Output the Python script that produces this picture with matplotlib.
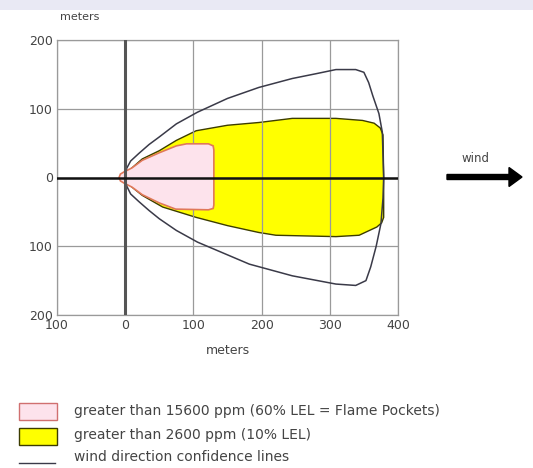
import matplotlib
matplotlib.use("Agg")
import matplotlib.pyplot as plt
from matplotlib.patches import Polygon, Rectangle, FancyArrow
from matplotlib.lines import Line2D

# threat zone outlines (meters downwind / crosswind)
outer_x = [0, 2, 8, 20, 35, 50, 75, 106, 150, 196, 245, 280, 309, 338, 350, 357, 363, 372, 377, 379,
           378, 375, 368, 360, 353, 338, 309, 245, 182, 106, 75, 50, 35, 20, 8, 2, 0]
outer_y = [0, 13, 24, 35, 48, 59, 78, 95, 115, 131, 144, 151, 157, 157, 153, 138, 119, 93, 66, 0,
           -30, -67, -100, -130, -150, -157, -155, -143, -126, -94, -77, -60, -48, -35, -24, -12, 0]

yellow_x = [0, 10, 25, 50, 75, 104, 150, 196, 245, 309, 348, 365, 374, 378, 379,
            379, 376, 369, 343, 309, 221, 196, 150, 104, 55, 25, 10, 0]
yellow_y = [3, 14, 27, 39, 54, 68, 76, 80, 86, 86, 83, 79, 72, 62, 0,
            -58, -66, -72, -84, -86, -84, -80, -70, -58, -43, -26, -14, -3]

pink_x = [-9, -7, -2, 10, 25, 50, 75, 90, 122, 129, 130, 130, 129, 122, 74, 50, 25, 10, -2, -7]
pink_y = [0, 5, 8, 14, 25, 36, 46, 49, 49, 46, 40, -40, -45, -47, -46, -37, -25, -14, -8, -5]

xticks = [-100, 0, 100, 200, 300, 400]
yticks = [-200, -100, 0, 100, 200]

legend_labels = ["greater than 15600 ppm (60% LEL = Flame Pockets)",
                 "greater than 2600 ppm (10% LEL)",
                 "wind direction confidence lines"]

W, H = 533, 468
fig = plt.figure(figsize=(W / 100, H / 100), dpi=100)

# textured strip at the top of the image
fig.add_artist(Rectangle((0, 1 - 10 / H), 1, 10 / H, transform=fig.transFigure,
                         facecolor="#e9e9f4", edgecolor="none"))

ax = fig.add_axes([57 / W, 1 - 315 / H, 341 / W, 275 / H])
ax.set_xlim(-100, 400)
ax.set_ylim(-200, 200)

ax.add_patch(Polygon(list(zip(yellow_x, yellow_y)), closed=True, facecolor="#ffff00",
                     edgecolor="#3c3c00", lw=1.0, zorder=2))
ax.add_patch(Polygon(list(zip(pink_x, pink_y)), closed=True, facecolor="#fde3ec",
                     edgecolor="#e0785a", lw=1.2, zorder=3))
ax.plot(outer_x, outer_y, color="#3a3a48", lw=1.1, zorder=4)

ax.set_xticks(xticks)
ax.set_yticks(yticks)
ax.set_xticklabels([str(abs(v)) for v in xticks])
ax.set_yticklabels([str(abs(v)) for v in yticks])
ax.tick_params(length=0, labelsize=9, colors="#444444", pad=3)
ax.grid(True, color="#9a9a9a", lw=0.9, zorder=5)
ax.set_axisbelow(False)
for s in ax.spines.values():
    s.set_color("#9a9a9a")
    s.set_linewidth(0.9)

ax.axvline(0, color="#555555", lw=2.2, zorder=6)
ax.axhline(0, color="#111111", lw=1.8, zorder=6)

fig.text(60 / W, 1 - 17 / H, "meters", fontsize=8, color="#444444", ha="left", va="center")
fig.text(228 / W, 1 - 351 / H, "meters", fontsize=9, color="#444444", ha="center", va="center")

# wind arrow
fig.text(476 / W, 1 - 158 / H, "wind", fontsize=8.5, color="#444444", ha="center", va="center")
fig.add_artist(FancyArrow(447 / W, 1 - 177 / H, 62 / W, 0, width=5 / H,
                          head_width=19 / H, head_length=13 / W, length_includes_head=False,
                          transform=fig.transFigure, color="black"))

# legend drawn below
fig.add_artist(Rectangle((19 / W, 1 - 420 / H), 38 / W, 17 / H, transform=fig.transFigure,
                         facecolor="#fde3ec", edgecolor="#d07070", lw=1.0))
fig.add_artist(Rectangle((19 / W, 1 - 445 / H), 38 / W, 17 / H, transform=fig.transFigure,
                         facecolor="#ffff00", edgecolor="#3c3c00", lw=1.0))
fig.add_artist(Line2D([19 / W, 55 / W], [1 - 463 / H, 1 - 463 / H], transform=fig.transFigure,
                      color="#3a3a48", lw=1.0))
for lab, yp in zip(legend_labels, [411, 435, 457]):
    fig.text(74 / W, 1 - yp / H, lab, fontsize=10, color="#444444", ha="left", va="center")

fig.savefig("out.png", dpi=100)
